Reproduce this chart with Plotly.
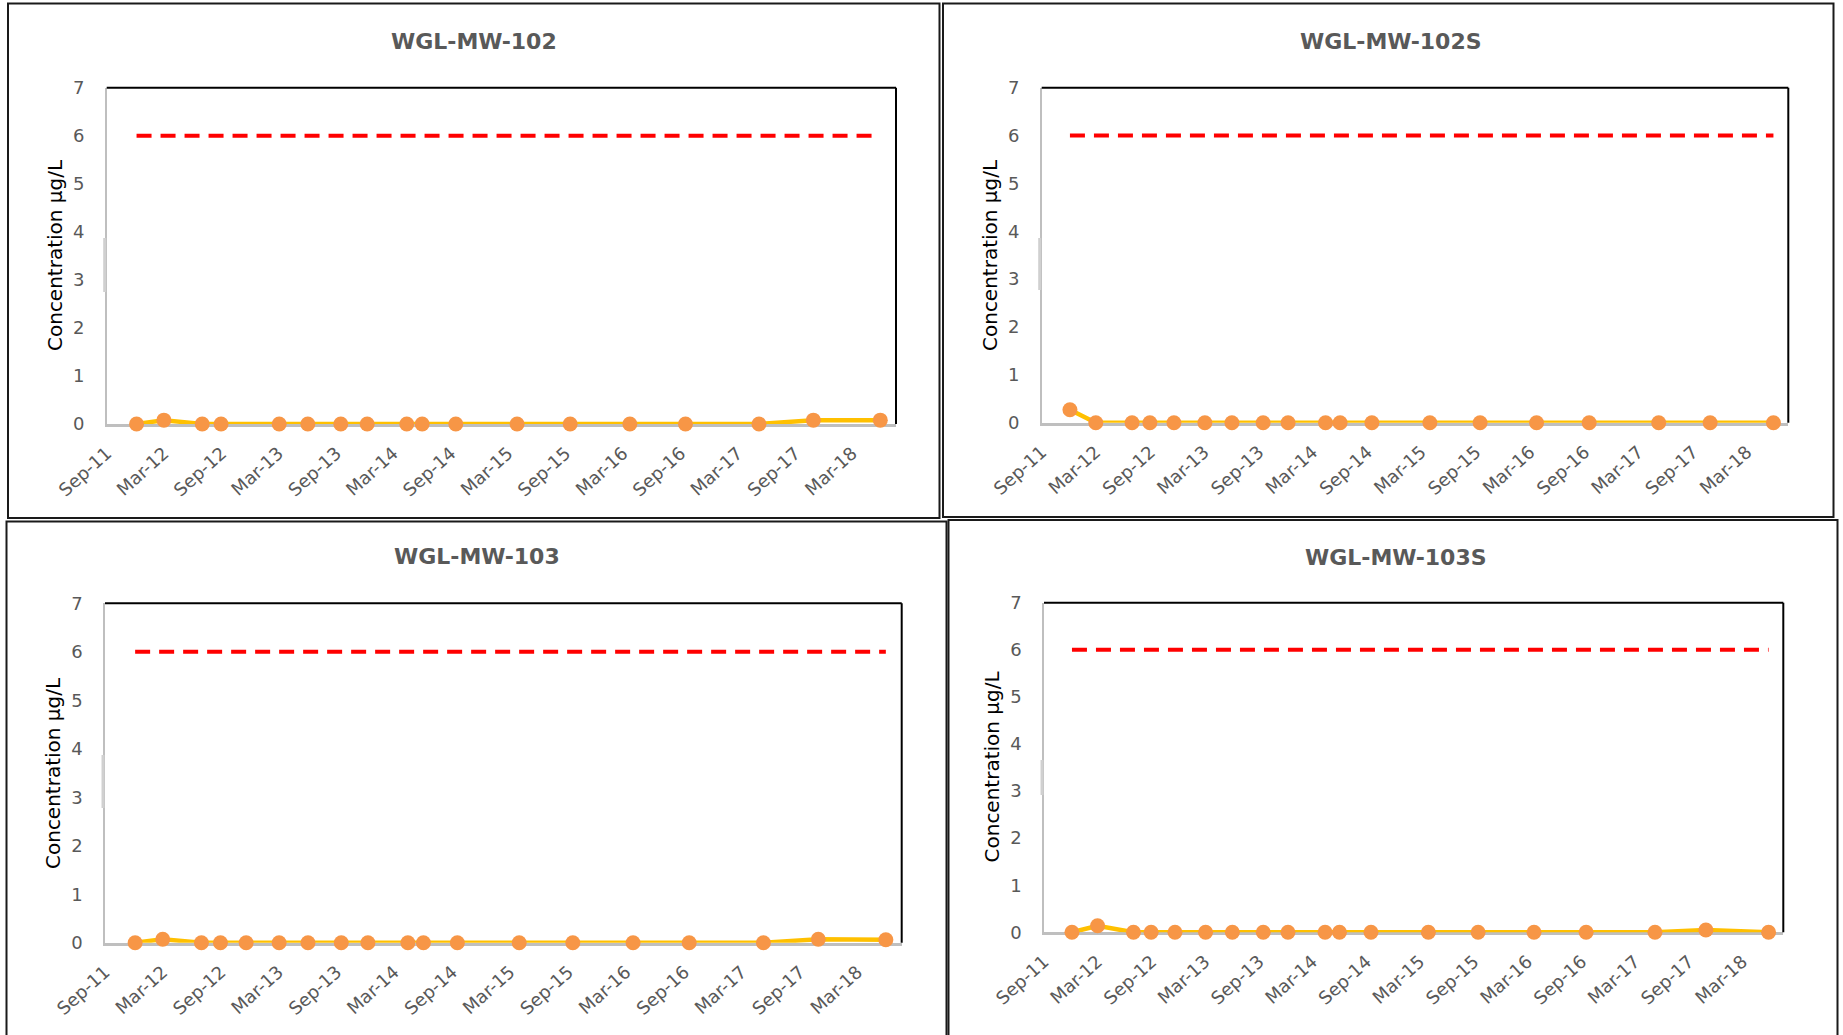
import plotly.graph_objects as go

# ---------------- data ----------------
sample_dates = ["2011-12-05", "2012-03-01", "2012-07-01", "2012-08-30", "2012-11-19",
                "2013-03-03", "2013-06-02", "2013-09-15", "2013-12-08", "2014-04-13",
                "2014-06-01", "2014-09-16", "2015-03-30", "2015-09-15", "2016-03-23",
                "2016-09-16", "2017-05-08", "2017-10-28", "2018-05-29"]

mw102 = [0, 0.08, 0, 0, None, 0, 0, 0, 0, 0, 0, 0, 0, 0, 0, 0, 0, 0.08, 0.08]
mw102s = [0.27, 0, 0, 0, 0, 0, 0, 0, 0, 0, 0, 0, 0, 0, 0, 0, 0, 0, 0]
mw103 = [0, 0.07, 0, 0, 0, 0, 0, 0, 0, 0, 0, 0, 0, 0, 0, 0, 0, 0.07, 0.06]
mw103s = [0, 0.14, 0, 0, 0, 0, 0, 0, 0, 0, 0, 0, 0, 0, 0, 0, 0, 0.05, 0]

mcl_dates = ["2011-12-05", "2018-05-29"]
mcl_values = [6, 6]

tick_dates = ["2011-09-01", "2012-03-01", "2012-09-01", "2013-03-01", "2013-09-01",
              "2014-03-01", "2014-09-01", "2015-03-01", "2015-09-01", "2016-03-01",
              "2016-09-01", "2017-03-01", "2017-09-01", "2018-03-01"]
tick_labels = ["Sep-11", "Mar-12", "Sep-12", "Mar-13", "Sep-13", "Mar-14", "Sep-14",
               "Mar-15", "Sep-15", "Mar-16", "Sep-16", "Mar-17", "Sep-17", "Mar-18"]

well_names = ["WGL-MW-102", "WGL-MW-102S", "WGL-MW-103", "WGL-MW-103S"]
well_values = [mw102, mw102s, mw103, mw103s]
y_ticks = [0, 1, 2, 3, 4, 5, 6, 7]
y_title = "Concentration µg/L"

# ---------------- layout geometry (pixels) ----------------
W, H = 1843, 1035
def px(x):
    return x / W
def py(y):
    return 1 - y / H

panels = [
    dict(plot=(106.7, 87.7, 896.0, 424.0), title=(474, 41.5), ytitle=(55, 255), box=(8, 3.5, 939.5, 518), smudge=(238, 292)),
    dict(plot=(1041.7, 87.7, 1788.3, 422.7), title=(1391, 41), ytitle=(990, 255), box=(943, 3.5, 1833.5, 517), smudge=(238, 290)),
    dict(plot=(105.0, 603.3, 901.7, 942.7), title=(477, 556), ytitle=(53, 773), box=(6.5, 521.5, 946.5, 1045), smudge=(755, 808)),
    dict(plot=(1044.0, 602.7, 1783.3, 932.3), title=(1396, 557.5), ytitle=(991.5, 767), box=(948.5, 520, 1837.5, 1045), smudge=(760, 795)),
]

fig = go.Figure()
shapes = []
annotations = []
layout_axes = {}

tick_font = dict(family="DejaVu Sans", size=18, color="#595959")

for i, (name, vals, p) in enumerate(zip(well_names, well_values, panels)):
    n = i + 1
    xa = "x" if n == 1 else f"x{n}"
    ya = "y" if n == 1 else f"y{n}"
    xkey = "xaxis" if n == 1 else f"xaxis{n}"
    ykey = "yaxis" if n == 1 else f"yaxis{n}"
    x0, y0, x1, y1 = p["plot"]

    fig.add_trace(go.Scatter(
        x=mcl_dates, y=mcl_values, mode="lines", xaxis=xa, yaxis=ya,
        line=dict(color="#FF0000", width=4, dash="15px,9px"),
        showlegend=False, hoverinfo="skip"))
    fig.add_trace(go.Scatter(
        x=sample_dates, y=vals, mode="lines+markers", xaxis=xa, yaxis=ya,
        connectgaps=True, cliponaxis=False,
        line=dict(color="#FFC000", width=4.5),
        marker=dict(color="#F79646", size=15, line=dict(width=0)),
        showlegend=False))

    layout_axes[xkey] = dict(
        domain=[px(x0), px(x1)], anchor=ya, type="date", automargin=False,
        range=["2011-09-01", "2018-07-18"],
        tickmode="array", tickvals=tick_dates, ticktext=tick_labels,
        tickangle=-42, tickfont=tick_font, ticks="", ticklabelstandoff=9,
        showgrid=False, zeroline=False,
        showline=True, linecolor="#BFBFBF", linewidth=2.5, layer="below traces")
    layout_axes[ykey] = dict(
        domain=[py(y1), py(y0)], anchor=xa, range=[0, 7], automargin=False,
        tickmode="array", tickvals=y_ticks, tickfont=tick_font, ticks="",
        ticklabelstandoff=17,
        showgrid=False, zeroline=False,
        showline=True, linecolor="#BFBFBF", linewidth=1.5, layer="below traces")

    # black top/right plot-area border
    shapes.append(dict(type="line", xref=f"{xa} domain", yref=f"{ya} domain",
                       x0=0, x1=1, y0=1, y1=1, line=dict(color="black", width=2)))
    shapes.append(dict(type="line", xref=f"{xa} domain", yref=f"{ya} domain",
                       x0=1, x1=1, y0=0, y1=1, line=dict(color="black", width=2)))
    # faint grey mark beside the value axis
    s0, s1 = p["smudge"]
    shapes.append(dict(type="line", xref="paper", yref="paper",
                       x0=px(x0 - 2), x1=px(x0 - 2), y0=py(s1), y1=py(s0),
                       line=dict(color="#D0D0D0", width=3)))
    # chart frame
    bx0, by0, bx1, by1 = p["box"]
    shapes.append(dict(type="rect", xref="paper", yref="paper",
                       x0=px(bx0), x1=px(bx1), y0=py(by1), y1=py(by0),
                       line=dict(color="#1a1a1a", width=2), fillcolor="rgba(0,0,0,0)"))

    tx, ty = p["title"]
    annotations.append(dict(text=f"<b>{name}</b>", xref="paper", yref="paper",
                            x=px(tx), y=py(ty), xanchor="center", yanchor="middle",
                            showarrow=False,
                            font=dict(family="DejaVu Sans", size=22, color="#595959")))
    yx, yy = p["ytitle"]
    annotations.append(dict(text=y_title, xref="paper", yref="paper",
                            x=px(yx), y=py(yy), xanchor="center", yanchor="middle",
                            textangle=-90, showarrow=False,
                            font=dict(family="DejaVu Sans", size=20, color="black")))

fig.update_layout(
    template="none",
    width=W, height=H, margin=dict(l=0, r=0, t=0, b=0, pad=0), autosize=False,
    paper_bgcolor="white", plot_bgcolor="white",
    shapes=shapes, annotations=annotations, **layout_axes)

fig.write_html("out.html", config={"displayModeBar": False},
               post_script="document.body.style.margin='0';document.body.style.overflow='hidden';")
